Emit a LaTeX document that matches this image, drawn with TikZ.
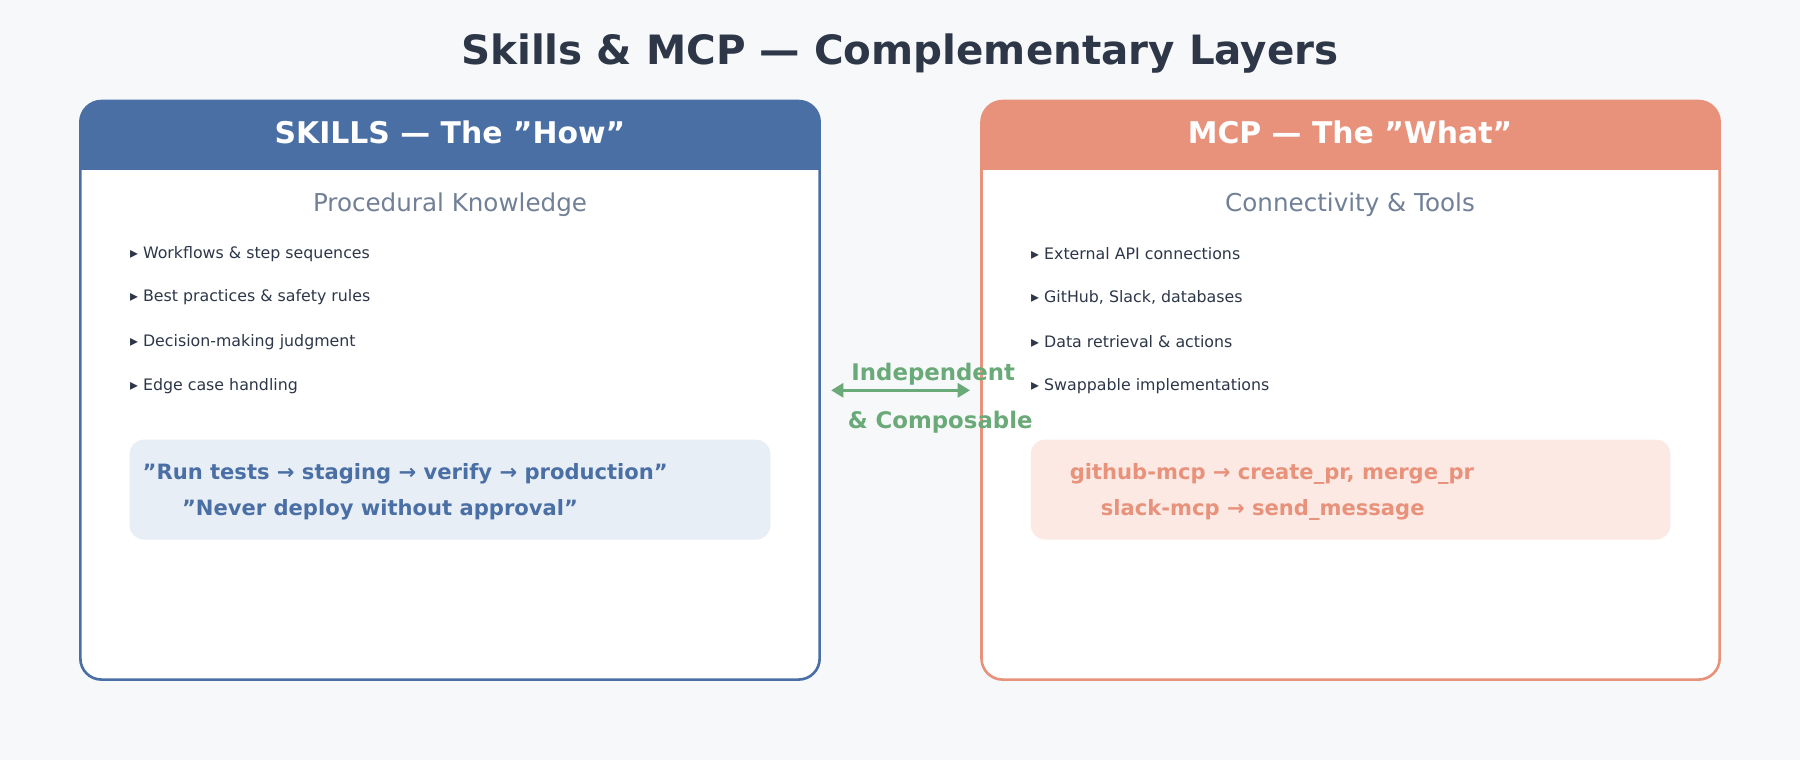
\documentclass[tikz,border=0pt]{standalone}
\usepackage{fontspec}
\setmainfont{DejaVu Sans}
\definecolor{pagebg}{HTML}{F7F8FA}
\definecolor{skblue}{HTML}{4A6FA5}
\definecolor{mcpcoral}{HTML}{E8927C}
\definecolor{inkdark}{HTML}{2D3748}
\definecolor{inkgray}{HTML}{718096}
\definecolor{skpale}{HTML}{E8EEF6}
\definecolor{mcppale}{HTML}{FCE9E3}
\definecolor{linkgreen}{HTML}{6AAA78}
\usetikzlibrary{positioning,arrows.meta}
\tikzset{
  head/.style={text=white, font=\fontsize{17}{20}\selectfont\bfseries},
  sub/.style={text=inkgray, font=\fontsize{14}{17}\selectfont},
  item/.style={text=inkdark, font=\fontsize{13.5}{16}\selectfont, anchor=west, inner sep=0pt},
  code/.style={font=\fontsize{12}{15}\selectfont\bfseries},
  link/.style={text=linkgreen, font=\fontsize{13}{16}\selectfont\bfseries}
}
\begin{document}
\begin{tikzpicture}[x=0.02296cm, y=-0.02296cm]
  \fill[pagebg] (0,0) rectangle (1568,662);
  \useasboundingbox (0,0) rectangle (1568,662);

  \node[text=inkdark, font=\fontsize{23}{28}\selectfont\bfseries] (title) at (784,47) {Skills \& MCP — Complementary Layers};

  % skills box
  \fill[white, rounded corners=12] (70,88) rectangle (714,592);
  \begin{scope}
    \clip[rounded corners=12] (70,88) rectangle (714,592);
    \fill[skblue] (70,88) rectangle (714,148);
  \end{scope}
  \draw[skblue, line width=1.5pt, rounded corners=12] (70,88) rectangle (714,592);
  \node[head] (skhead) at (392,115) {SKILLS — The "How"};
  \node[sub] (sksub) at (392,178) {Procedural Knowledge};
  \node[item] (sk1) at (113,221) {\small▸\ Workflows \& step sequences};
  \node[item] (sk2) at (113,259) {\small▸\ Best practices \& safety rules};
  \node[item] (sk3) at (113,298) {\small▸\ Decision-making judgment};
  \node[item] (sk4) at (113,336) {\small▸\ Edge case handling};
  \fill[skpale, rounded corners=8] (113,383) rectangle (671,470);
  \node[code, text=skblue] (skc1) at (353,413) {"Run tests → staging → verify → production"};
  \node[code, text=skblue] (skc2) at (331,444) {"Never deploy without approval"};

  % mcp box
  \fill[white, rounded corners=12] (855,88) rectangle (1498,592);
  \begin{scope}
    \clip[rounded corners=12] (855,88) rectangle (1498,592);
    \fill[mcpcoral] (855,88) rectangle (1498,148);
  \end{scope}
  \draw[mcpcoral, line width=1.5pt, rounded corners=12] (855,88) rectangle (1498,592);
  \node[head] (mcphead) at (1176,115) {MCP — The "What"};
  \node[sub] (mcpsub) at (1176,178) {Connectivity \& Tools};
  \node[item] (mcp1) at (898,221) {\small▸\ External API connections};
  \node[item] (mcp2) at (898,259) {\small▸\ GitHub, Slack, databases};
  \node[item] (mcp3) at (898,298) {\small▸\ Data retrieval \& actions};
  \node[item] (mcp4) at (898,336) {\small▸\ Swappable implementations};
  \fill[mcppale, rounded corners=8] (898,383) rectangle (1455,470);
  \node[code, text=mcpcoral] (mcpc1) at (1108,413) {github-mcp → create\_pr, merge\_pr};
  \node[code, text=mcpcoral] (mcpc2) at (1100,444) {slack-mcp → send\_message};

  % link between layers
  \coordinate (linkl) at (724,340);
  \coordinate (linkr) at (845,340);
  \draw[linkgreen, line width=2pt, {Triangle[length=7pt,width=8pt]}-{Triangle[length=7pt,width=8pt]}] (linkl) -- (linkr);
  \node[link] (indep) at (813,326) {Independent};
  \node[link] (compo) at (819,368) {\& Composable};
\end{tikzpicture}
\end{document}
